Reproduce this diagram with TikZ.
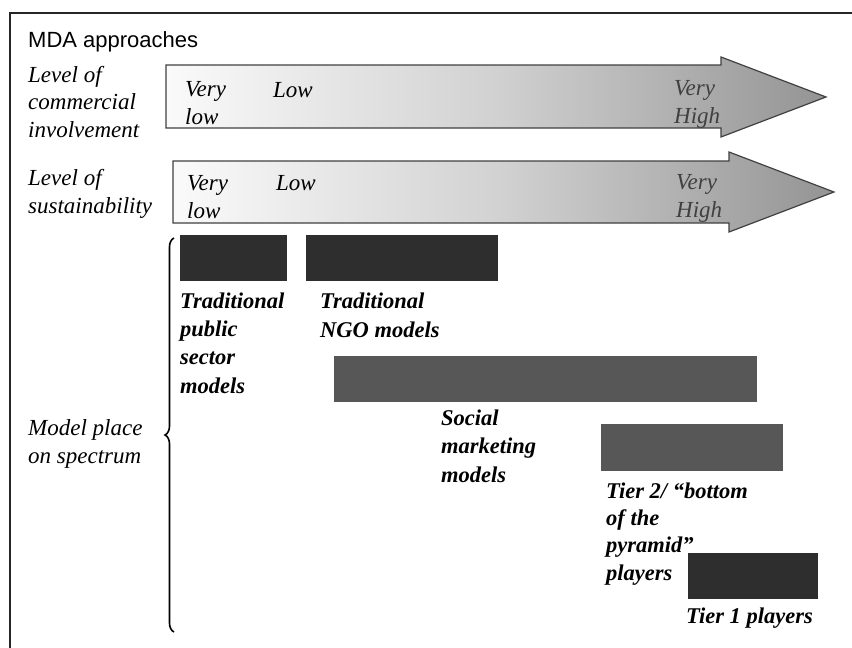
\documentclass[tikz,border=0pt]{standalone}
\usepackage{fontspec}
\setmainfont{Liberation Serif}
\setsansfont{Liberation Sans}
\usepackage{tikz}
\usetikzlibrary{decorations.pathreplacing}
\pgfdeclarehorizontalshading{spectrum}{100bp}{color(0bp)=(white); color(22bp)=(white); color(50bp)=(black!18); color(78bp)=(black!45); color(100bp)=(black!70)}

\begin{document}
\begin{tikzpicture}[x=1pt,y=-1pt,
		lbl/.style={anchor=base west,align=left,inner sep=0pt,font=\fontsize{23}{27.5}\selectfont\itshape},
		mdl/.style={anchor=base west,align=left,inner sep=0pt,font=\fontsize{22.5}{28.3}\selectfont\bfseries\itshape},
		arrowbody/.style={shading=spectrum,draw=black!75,line width=1.2pt},
		darkbar/.style={fill=black!82},
		greybar/.style={fill=black!66}]
				\useasboundingbox (0,0) rectangle (852,648);
				%Frame
				\draw[line width=1.5pt,black!85] (10,648) -- (10,13) -- (852,13);
				\node[anchor=base west,inner sep=0pt,font=\sffamily\fontsize{22}{26}\selectfont] (title) at (28,47) {MDA approaches};

				%Arrows
				\shade[arrowbody] (166,65) -- (721,65) -- (721,57) -- (826,97) -- (721,137) -- (721,128) -- (166,128) -- cycle;
				\shade[arrowbody] (173,161) -- (729,161) -- (729,152) -- (834,192) -- (729,232) -- (729,223) -- (173,223) -- cycle;

				%Nodes (placed at the baseline of their last line)
				\node[lbl] (commerce) at (28,137) {Level of\\commercial\\involvement};
				\node[lbl] (sustain) at (28,213) {Level of\\sustainability};
				\node[lbl] (model) at (28,463) {Model place\\on spectrum};

				\node[lbl] (cvlow) at (185,124) {Very\\low};
				\node[lbl] (clow) at (273,97) {Low};
				\node[lbl,text=black!75] (chigh) at (674,123) {Very\\High};
				\node[lbl] (svlow) at (187,218) {Very\\low};
				\node[lbl] (slow) at (276,190) {Low};
				\node[lbl,text=black!75] (shigh) at (676,217) {Very\\High};

				%Bars
				\fill[darkbar] (180,235) rectangle (287,281);
				\fill[darkbar] (306,235) rectangle (498,281);
				\fill[greybar] (334,356) rectangle (757,402);
				\fill[greybar] (601,424) rectangle (783,471);
				\fill[darkbar] (688,553) rectangle (818,599);

				\node[mdl] (public) at (180,393) {Traditional\\public\\sector\\models};
				\node[mdl] (ngo) at (320,337) {Traditional\\NGO models};
				\node[mdl] (social) at (441,482) {Social\\marketing\\models};
				\node[mdl,font=\fontsize{22.5}{27.3}\selectfont\bfseries\itshape] (tiertwo) at (606,580) {Tier 2/ “bottom\\of the\\pyramid”\\players};
				\node[mdl] (tierone) at (686,623) {Tier 1 players};

				%Brace
				\draw[line width=1.6pt,decorate,decoration={brace,amplitude=9pt}] (174,632) -- (174,238);
\end{tikzpicture}
\end{document}
